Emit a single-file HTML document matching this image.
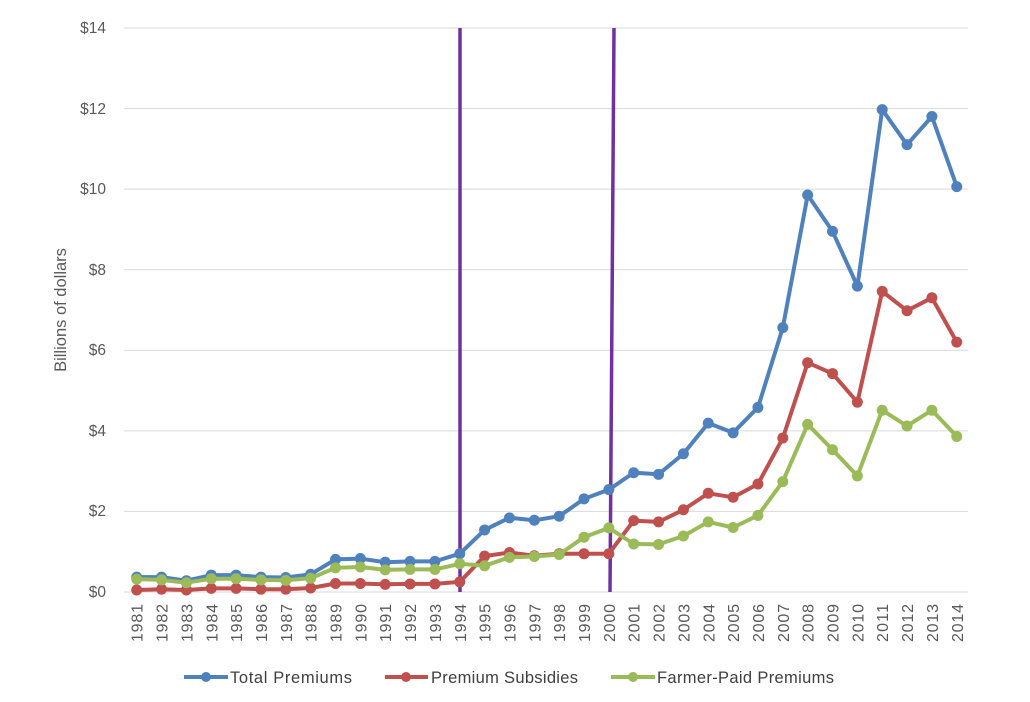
<!DOCTYPE html><html><head><style>body{margin:0;background:#fff}</style></head><body>
<svg width="1030" height="697" xmlns="http://www.w3.org/2000/svg" font-family="Liberation Sans, sans-serif">
<g stroke="#d9d9d9" stroke-width="1">
<line x1="124" x2="968" y1="592" y2="592"/><line x1="124" x2="968" y1="511.4" y2="511.4"/><line x1="124" x2="968" y1="430.9" y2="430.9"/><line x1="124" x2="968" y1="350.3" y2="350.3"/><line x1="124" x2="968" y1="269.7" y2="269.7"/><line x1="124" x2="968" y1="189.1" y2="189.1"/><line x1="124" x2="968" y1="108.6" y2="108.6"/><line x1="124" x2="968" y1="28" y2="28"/>
</g>
<g font-size="15.5" fill="#595959" text-anchor="end">
<text x="106" y="597">$0</text><text x="106" y="516">$2</text><text x="106" y="436">$4</text><text x="106" y="355">$6</text><text x="106" y="275">$8</text><text x="106" y="194">$10</text><text x="106" y="114">$12</text><text x="106" y="33">$14</text>
</g>
<text transform="translate(66,310) rotate(-90)" font-size="16.5" fill="#595959" text-anchor="middle">Billions of dollars</text>
<g id="xl" font-size="16" fill="#595959"></g>
<line x1="460" y1="28" x2="460" y2="592" stroke="#7030a0" stroke-width="3.5"/>
<line x1="614" y1="28" x2="610" y2="592" stroke="#7030a0" stroke-width="3.5"/>
<g id="s"></g>
<g font-size="16.5" fill="#404040">
<line x1="184" x2="228" y1="677" y2="677" stroke="#4f81bd" stroke-width="4"/><circle cx="206" cy="677" r="5" fill="#4f81bd"/><text x="230" y="683" textLength="122">Total Premiums</text>
<line x1="385" x2="428" y1="677" y2="677" stroke="#c0504d" stroke-width="4"/><circle cx="406" cy="677" r="5" fill="#c0504d"/><text x="431" y="683" textLength="147">Premium Subsidies</text>
<line x1="611" x2="655" y1="677" y2="677" stroke="#9bbb59" stroke-width="4"/><circle cx="633" cy="677" r="5" fill="#9bbb59"/><text x="657" y="683" textLength="177">Farmer-Paid Premiums</text>
</g>
</svg>
<script>
var ns="http://www.w3.org/2000/svg";
function X(i){return 136.7+i*24.85}function Y(v){return 592-v*40.3}
var xl=document.getElementById('xl');
for(var i=0;i<34;i++){var t=document.createElementNS(ns,'text');t.setAttribute('transform','translate('+(X(i)+6)+',642) rotate(-90)');t.setAttribute('textLength','38');t.textContent=1981+i;xl.appendChild(t);}
var D=[["#4f81bd",[.37,.37,.28,.42,.42,.37,.36,.44,.81,.83,.74,.76,.76,.95,1.54,1.84,1.78,1.88,2.31,2.54,2.96,2.92,3.43,4.19,3.95,4.58,6.56,9.85,8.95,7.59,11.97,11.1,11.8,10.06]],
["#c0504d",[.05,.07,.05,.09,.09,.07,.07,.1,.21,.21,.19,.2,.2,.25,.89,.98,.9,.95,.95,.95,1.77,1.74,2.04,2.45,2.35,2.68,3.82,5.69,5.42,4.71,7.46,6.98,7.3,6.2]],
["#9bbb59",[.32,.3,.23,.33,.33,.3,.29,.34,.6,.62,.55,.56,.56,.7,.65,.86,.88,.93,1.36,1.59,1.19,1.18,1.39,1.74,1.6,1.9,2.74,4.16,3.53,2.88,4.51,4.12,4.51,3.86]]];
var g=document.getElementById('s'),h='';
D.forEach(function(d){var p=d[1].map(function(v,i){return X(i).toFixed(1)+','+Y(v).toFixed(1)}).join(' ');
h+='<polyline points="'+p+'" fill="none" stroke="'+d[0]+'" stroke-width="4" stroke-linejoin="round"/>';
d[1].forEach(function(v,i){h+='<circle cx="'+X(i)+'" cy="'+Y(v)+'" r="5.5" fill="'+d[0]+'"/>'});});
g.innerHTML=h;
</script>
</body></html>
